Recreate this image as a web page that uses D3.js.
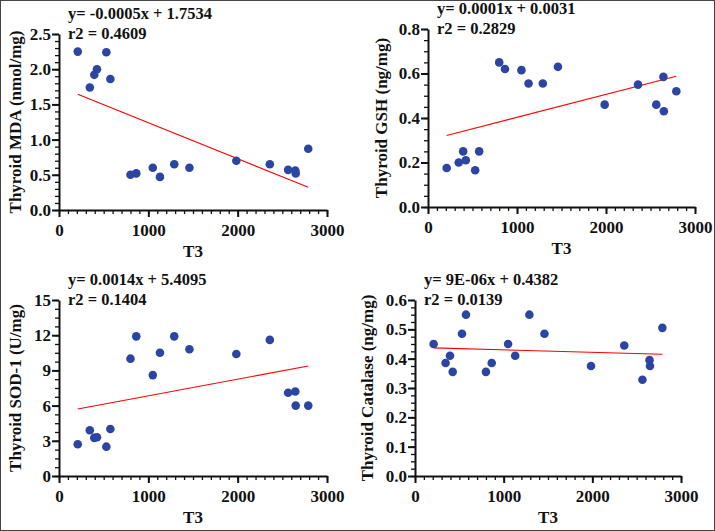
<!DOCTYPE html>
<html><head><meta charset="utf-8">
<script src="https://cdn.jsdelivr.net/npm/d3@7"></script>
<style>body{margin:0;background:#fff}svg{display:block}text{font-family:"Liberation Serif","Times New Roman",serif;font-weight:bold;fill:#111}</style>
</head><body><svg id="c" width="715" height="531"></svg>
<script>
const t3 = [210,345,395,425,530,575,800,865,1050,1130,1290,1460,1985,2360,2565,2645,2650,2790];
const mda = [2.25,1.74,1.92,2.0,2.24,1.86,0.5,0.52,0.6,0.47,0.65,0.6,0.7,0.65,0.57,0.56,0.52,0.87];
const gsh = [0.175,0.2,0.25,0.21,0.165,0.25,0.65,0.62,0.615,0.555,0.555,0.63,0.46,0.55,0.46,0.585,0.43,0.52];
const sod = [2.7,3.9,3.25,3.3,2.5,4.0,10.0,11.9,8.6,10.5,11.9,10.8,10.4,11.6,7.1,7.2,6.0,6.0];
const cat = [0.45,0.385,0.41,0.355,0.485,0.55,0.355,0.385,0.45,0.41,0.55,0.485,0.375,0.445,0.328,0.395,0.375,0.505];
const xTicks = [0,1000,2000,3000];
const panels = [
 {y:mda,title:"Thyroid MDA (nmol/mg)",max:2.5,ticks:[0,0.5,1,1.5,2,2.5],minor:0.1,fmt:".1f",eq:["y= -0.0005x + 1.7534","r2 = 0.4609"],x0:59,x1:327,y0:210,y1:34,tx:15},
 {y:gsh,title:"Thyroid GSH (ng/mg)",max:0.8,ticks:[0,0.2,0.4,0.6,0.8],minor:0.05,fmt:".1f",eq:["y= 0.0001x + 0.0031","r2 = 0.2829"],x0:428,x1:695,y0:207,y1:29,tx:381},
 {y:sod,title:"Thyroid SOD-1 (U/mg)",max:15,ticks:[0,3,6,9,12,15],minor:0.75,fmt:"d",eq:["y= 0.0014x + 5.4095","r2 = 0.1404"],x0:59,x1:327,y0:476,y1:300,tx:15},
 {y:cat,title:"Thyroid Catalase (ng/mg)",max:0.6,ticks:[0,0.1,0.2,0.3,0.4,0.5,0.6],minor:0.025,fmt:".1f",eq:["y= 9E-06x + 0.4382","r2 = 0.0139"],x0:415,x1:681,y0:476,y1:300,tx:367}
];
const svg = d3.select("#c");
svg.append("rect").attr("x",0.5).attr("y",0.5).attr("width",714).attr("height",530).attr("fill","none").attr("stroke","#444");
panels.forEach(p=>{
  const x = d3.scaleLinear().domain([0,3000]).range([p.x0,p.x1]);
  const y = d3.scaleLinear().domain([0,p.max]).range([p.y0,p.y1]);
  const g = svg.append("g");
  const xm = d3.range(0,3001,100), ym = d3.range(0,p.max+1e-9,p.minor);
  g.append("g").attr("transform",`translate(0,${p.y0})`).call(d3.axisBottom(x).tickValues(xm).tickSize(4).tickFormat("")).call(a=>{a.select(".domain").remove();a.selectAll("line").attr("stroke","#111").attr("stroke-width",1.3);});
  g.append("g").attr("transform",`translate(${p.x0},0)`).call(d3.axisLeft(y).tickValues(ym).tickSize(4).tickFormat("")).call(a=>{a.select(".domain").remove();a.selectAll("line").attr("stroke","#111").attr("stroke-width",1.3);});
  const ax = g.append("g").attr("transform",`translate(0,${p.y0})`).call(d3.axisBottom(x).tickValues(xTicks).tickSize(7).tickSizeOuter(0).tickFormat(d3.format("d")));
  const ay = g.append("g").attr("transform",`translate(${p.x0},0)`).call(d3.axisLeft(y).tickValues(p.ticks).tickSize(7).tickSizeOuter(0).tickFormat(d3.format(p.fmt)));
  [ax,ay].forEach(a=>{a.select(".domain").attr("stroke","#111").attr("stroke-width",2);a.selectAll("line").attr("stroke","#111").attr("stroke-width",2);a.selectAll("text").style("font-size","17px").attr("fill","#111");});
  ax.selectAll("text").attr("dy","0.95em");
  ay.selectAll("text").attr("x",-8);
  const mx=d3.mean(t3), my=d3.mean(p.y);
  const b = d3.sum(t3,(v,i)=>(v-mx)*(p.y[i]-my))/d3.sum(t3,v=>(v-mx)*(v-mx)), a0 = my-b*mx;
  const xe=[d3.min(t3),d3.max(t3)];
  g.append("line").attr("x1",x(xe[0])).attr("y1",y(a0+b*xe[0])).attr("x2",x(xe[1])).attr("y2",y(a0+b*xe[1])).attr("stroke","#f00").attr("stroke-width",1.1);
  g.selectAll("circle").data(t3).join("circle").attr("cx",d=>x(d)).attr("cy",(d,i)=>y(p.y[i])).attr("r",4.3).attr("fill","#2c45a3");
  g.append("text").attr("transform",`translate(${p.tx},${(p.y0+p.y1)/2}) rotate(-90)`).attr("text-anchor","middle").attr("dy","0.35em").style("font-size","17px").text(p.title);
  g.append("text").attr("x",(p.x0+p.x1)/2).attr("y",p.y0+47).attr("text-anchor","middle").style("font-size","17px").text("T3");
  p.eq.forEach((s,i)=>g.append("text").attr("x",p.x0+9).attr("y",p.y1-15+i*20).style("font-size","16.5px").text(s));
});
</script></body></html>
